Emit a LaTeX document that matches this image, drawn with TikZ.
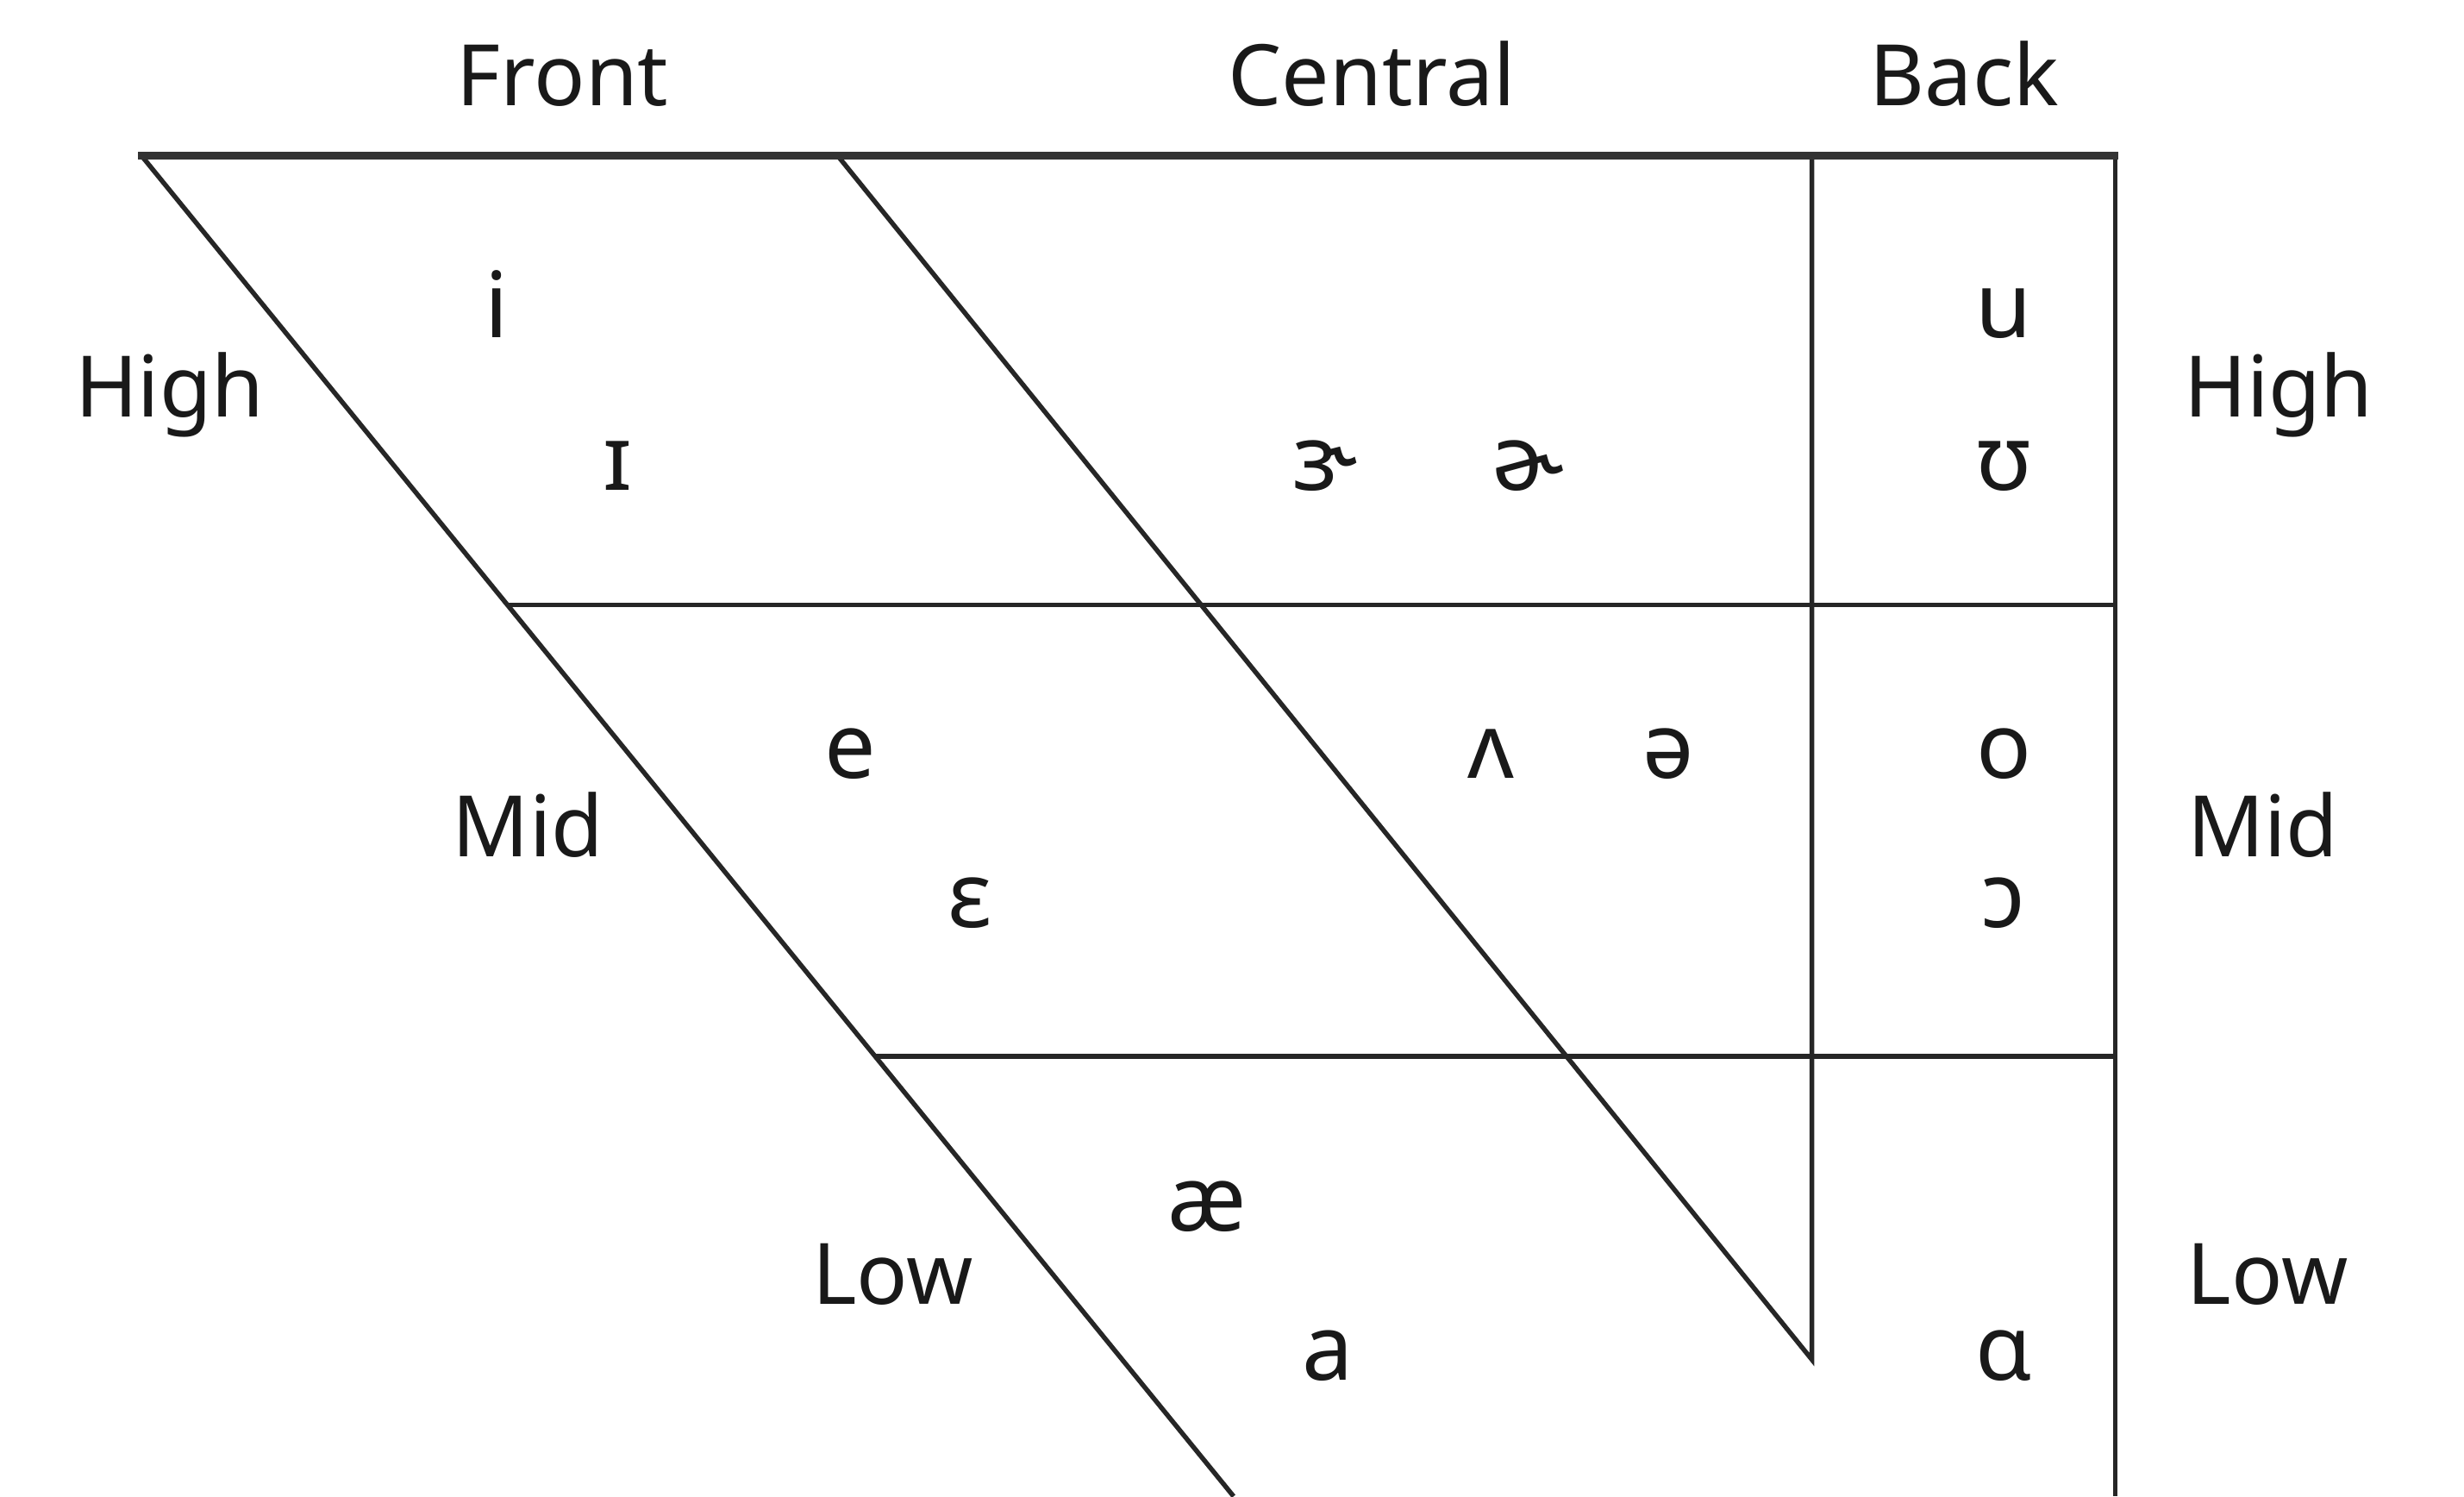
\documentclass[tikz,border=0pt]{standalone}
\usepackage{fontspec}
\setmainfont{Noto Sans}
\begin{document}
\begin{tikzpicture}[x=1pt,y=-1pt,
  chartline/.style={draw=black!85,line width=3pt},
  topline/.style={draw=black!80,line width=4.5pt},
  lbl/.style={anchor=base,inner sep=0pt,font=\fontsize{54}{60}\selectfont,text=black!90},
  vow/.style={anchor=base,inner sep=0pt,font=\fontsize{58}{64}\selectfont,text=black!90}]
\useasboundingbox (0,0) rectangle (1568,952);
\fill[white] (0,0) rectangle (1568,952);
\begin{scope}
\clip (0,0) rectangle (1568,952);
% corner coordinates
\coordinate (TL) at (90,99);
\coordinate (TM) at (533,99);
\coordinate (TB) at (1153,99);
\coordinate (TR) at (1346,99);
\coordinate (LD) at (785,952);
\coordinate (MD) at (1153,865);
\coordinate (RB) at (1346,952);
\coordinate (H1L) at (323,385);
\coordinate (H1R) at (1346,385);
\coordinate (H2L) at (557,672);
\coordinate (H2R) at (1346,672);
\draw[chartline] (TL) -- (LD);
\draw[chartline] (TM) -- (MD) -- (TB);
\draw[chartline] (TR) -- (RB);
\draw[chartline] (H1L) -- (H1R);
\draw[chartline] (H2L) -- (H2R);
\draw[topline,line cap=rect] (TL) -- (TR);
\end{scope}
% labels
\node[lbl] (front) at (358,67) {Front};
\node[lbl] (central) at (873,67) {Central};
\node[lbl] (back) at (1250,67) {Back};
\node[lbl] (highL) at (108,265) {High};
\node[lbl] (highR) at (1450,265) {High};
\node[lbl] (midL) at (336,545) {Mid};
\node[lbl] (midR) at (1440,545) {Mid};
\node[lbl] (lowL) at (568,830) {Low};
\node[lbl] (lowR) at (1443,830) {Low};
% vowels
\node[vow] (vi) at (316,215) {i};
\node[vow] (vI) at (393,312) {ɪ};
\node[vow] (ver) at (843,312) {ɝ};
\node[vow] (vschr) at (972,312) {ɚ};
\node[vow] (vu) at (1275,215) {u};
\node[vow] (vU) at (1275,312) {ʊ};
\node[vow] (ve) at (541,495) {e};
\node[vow] (veps) at (617,590) {ɛ};
\node[vow] (vwedge) at (949,495) {ʌ};
\node[vow] (vschwa) at (1062,495) {ə};
\node[vow] (vo) at (1275,495) {o};
\node[vow] (vopen) at (1275,590) {ɔ};
\node[vow] (vae) at (768,783) {æ};
\node[vow] (va) at (845,878) {a};
\node[vow] (valpha) at (1275,878) {ɑ};
\end{tikzpicture}
\end{document}
